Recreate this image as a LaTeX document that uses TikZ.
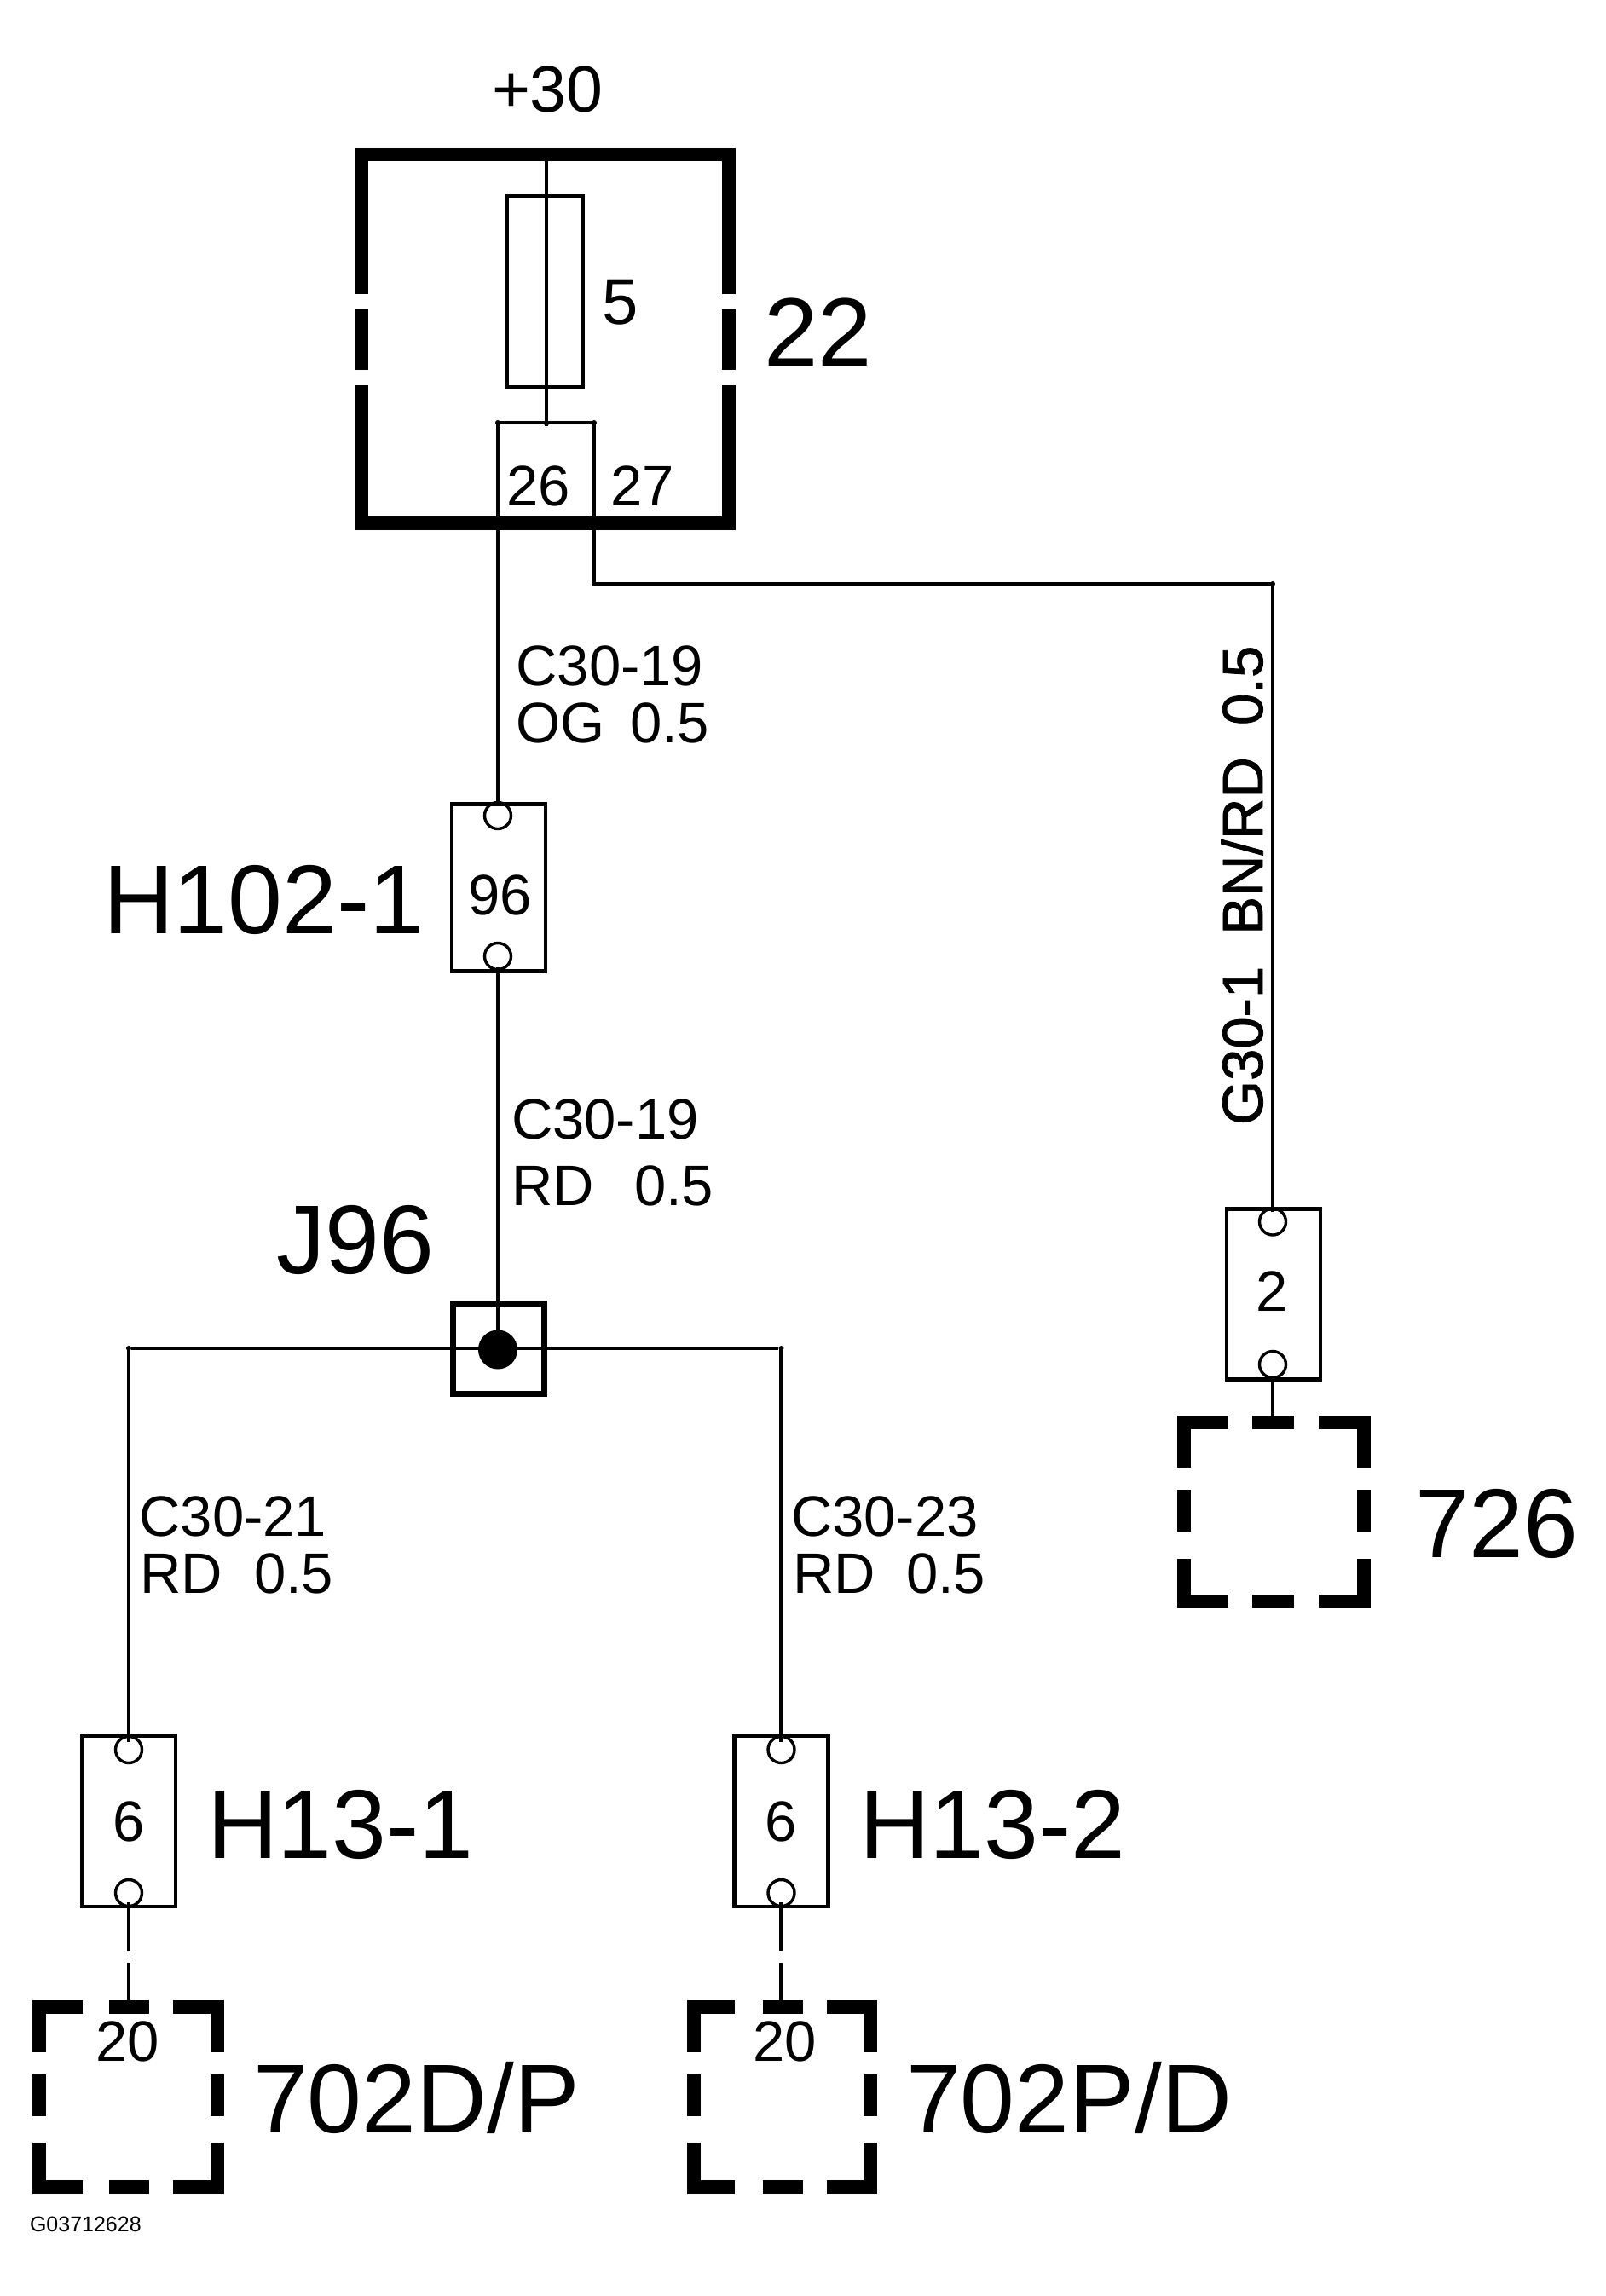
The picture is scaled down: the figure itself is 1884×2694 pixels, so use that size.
\documentclass[tikz,border=0pt]{standalone}
\usepackage{fontspec}
\setmainfont{Liberation Sans}
\newfontfamily\boldish[FakeBold=1.2]{Liberation Sans}
\tikzset{x=0.5pt,y=-0.5pt,
  wire/.style={line width=2.3pt,line cap=butt},
  thin box/.style={line width=2.2pt},
  pin/.style={draw,line width=1.7pt,circle,inner sep=0pt,minimum size=15.5pt,fill=none},
  heavy/.style={line width=7.6pt,line cap=butt,line join=miter},
  txt/.style={anchor=base west,inner sep=0pt,outer sep=0pt},
  ctr/.style={anchor=base,inner sep=0pt,outer sep=0pt},
  big/.style={font=\fontsize{57.4pt}{60pt}\selectfont},
  mid/.style={font=\fontsize{33.5pt}{36pt}\selectfont},
  top30/.style={font=\fontsize{38.5pt}{40pt}\selectfont},
  tiny/.style={font=\fontsize{12.5pt}{14pt}\selectfont},
  conn/.style={draw,line width=2.2pt,rectangle,inner sep=0pt,minimum width=55pt,minimum height=100pt},
  tick/.style={fill,circle,inner sep=0pt,minimum size=3pt}
}
\begin{document}
\begin{tikzpicture}
\useasboundingbox (0,0) rectangle (1884,2694);
% module 22
\draw[heavy] (424,345) -- (424,181.5) -- (855,181.5) -- (855,345);
\draw[heavy] (424,363) -- (424,434);
\draw[heavy] (855,363) -- (855,434);
\draw[heavy,line width=8.2pt] (424,452) -- (424,614) -- (855,614) -- (855,452);
\node[top30,txt] (plus) at (577,131) {+30};
\coordinate (feedtop) at (641,174);
\node[tick] (bar) at (641,497) {};
\node[draw,thin box,inner sep=0pt,minimum width=44.5pt,minimum height=112pt] (fuse) at (639.5,342) {};
\draw[wire] (feedtop) -- (bar.south);
\node[font=\fontsize{38pt}{40pt}\selectfont,txt] (five) at (706,380) {5};
\node[font=\fontsize{57pt}{60pt}\selectfont,txt] (n22) at (896,429) {22};
\node[tick] (barL) at (584,496) {};
\node[tick] (barR) at (697,496) {};
\draw[wire] (barL) -- (barR);
\node[mid,txt] (n26) at (594,593) {26};
\node[mid,txt] (n27) at (716,593) {27};
% connector H102-1
\node[conn,minimum height=98pt] (c96) at (585,1041.5) {};
\node[pin] (c96a) at (584,957) {};
\node[pin] (c96b) at (584,1122) {};
\node[mid,ctr] (l96) at (587,1073) {96};
\node[big,txt] (h102) at (121,1095) {H102-1};
\draw[wire] (barL.center) -- ([yshift=-3pt]c96a.north);
\node[mid,txt] (w1a) at (605.5,804) {C30-19};
\node[mid,txt] (w1b) at (605.5,871) {OG};
\node[mid,txt] (w1c) at (739,871) {0.5};
\node[mid,txt] (w2a) at (600,1336) {C30-19};
\node[mid,txt] (w2b) at (600,1414) {RD};
\node[mid,txt] (w2c) at (744,1414) {0.5};
% splice J96
\node[draw,line width=3.5pt,rectangle,inner sep=0pt,minimum width=53.5pt,minimum height=53pt] (j96) at (585,1582.5) {};
\node[fill,circle,inner sep=0pt,minimum size=23pt] (jdot) at (584,1583.5) {};
\draw[wire] ([yshift=2pt]c96b.south) -- (jdot.center);
\node[big,txt] (lj96) at (324,1494) {J96};
\node[tick] (jL) at (151,1582) {};
\node[tick] (jR) at (916.5,1582) {};
\draw[wire] (jL) -- (jR);
\node[mid,txt] (w3a) at (163.5,1802) {C30-21};
\node[mid,txt] (w3b) at (164,1869) {RD};
\node[mid,txt] (w3c) at (298,1869) {0.5};
\node[mid,txt] (w4a) at (928,1802) {C30-23};
\node[mid,txt] (w4b) at (930,1869) {RD};
\node[mid,txt] (w4c) at (1063,1869) {0.5};
% H13-1
\node[conn] (h1) at (151,2137) {};
\node[pin] (h1a) at (151,2053) {};
\node[pin] (h1b) at (151,2221) {};
\node[mid,ctr] (l6a) at (151,2160) {6};
\node[big,txt] (lh1) at (243,2180) {H13-1};
\coordinate (g1a) at (151,2289);
\coordinate (g1b) at (151,2303);
\coordinate (d1) at (151,2363);
\draw[wire] (jL.center) -- ([yshift=-4pt]h1a.north);
\draw[wire] ([yshift=3pt]h1b.south) -- (g1a);
\draw[wire] (g1b) -- (d1);
% H13-2
\node[conn] (h2) at (916.5,2137) {};
\node[pin] (h2a) at (916.5,2053) {};
\node[pin] (h2b) at (916.5,2221) {};
\node[mid,ctr] (l6b) at (916.5,2160) {6};
\node[big,txt] (lh2) at (1008,2180) {H13-2};
\coordinate (g2a) at (916.5,2289);
\coordinate (g2b) at (916.5,2303);
\coordinate (d2) at (916.5,2363);
\draw[wire] (jR.center) -- ([yshift=-4pt]h2a.north);
\draw[wire] ([yshift=3pt]h2b.south) -- (g2a);
\draw[wire] (g2b) -- (d2);
% dashed modules
\begin{scope}[heavy]
\draw (97,2355) -- (46,2355) -- (46,2408);
\draw (128,2355) -- (175,2355);
\draw (203,2355) -- (255,2355) -- (255,2408);
\draw (46,2434) -- (46,2483);
\draw (255,2434) -- (255,2483);
\draw (46,2514) -- (46,2566) -- (97,2566);
\draw (128,2566) -- (175,2566);
\draw (203,2566) -- (255,2566) -- (255,2514);
\draw (862,2355) -- (814,2355) -- (814,2408);
\draw (895,2355) -- (942,2355);
\draw (970,2355) -- (1021,2355) -- (1021,2408);
\draw (814,2434) -- (814,2483);
\draw (1021,2434) -- (1021,2483);
\draw (814,2514) -- (814,2566) -- (862,2566);
\draw (895,2566) -- (942,2566);
\draw (970,2566) -- (1021,2566) -- (1021,2514);
\draw (1441,1669) -- (1389,1669) -- (1389,1722);
\draw (1469,1669) -- (1518,1669);
\draw (1547,1669) -- (1600,1669) -- (1600,1722);
\draw (1389,1748) -- (1389,1797);
\draw (1600,1748) -- (1600,1797);
\draw (1389,1829) -- (1389,1879) -- (1441,1879);
\draw (1469,1879) -- (1518,1879);
\draw (1547,1879) -- (1600,1879) -- (1600,1829);
\end{scope}
\node[mid,ctr] (l20a) at (150,2418) {20};
\node[mid,ctr] (l20b) at (921,2418) {20};
\node[big,txt] (l702a) at (297,2502) {702D/P};
\node[big,txt] (l702b) at (1063,2502) {702P/D};
\node[tiny,txt] (code) at (35,2618) {G03712628};
% right branch
\node[conn] (c2) at (1494,1518.5) {};
\node[pin] (c2a) at (1493,1433.5) {};
\node[pin] (c2b) at (1493,1601) {};
\node[mid,ctr] (l2) at (1492,1538) {2};
\node[tick] (elbow) at (1493,685) {};
\coordinate (d3) at (1493,1662);
\draw[wire] (barR.center) |- (elbow.center) -- ([yshift=-3pt]c2a.north);
\draw[wire] ([yshift=1.5pt]c2b.south) -- (d3);
\node[big,txt] (l726) at (1660,1827) {726};
\node[font=\boldish\fontsize{33.5pt}{36pt}\selectfont,txt,rotate=90] (w5) at (1481,1320) {G30-1 \ BN/RD \ 0.5};
\end{tikzpicture}
\end{document}
